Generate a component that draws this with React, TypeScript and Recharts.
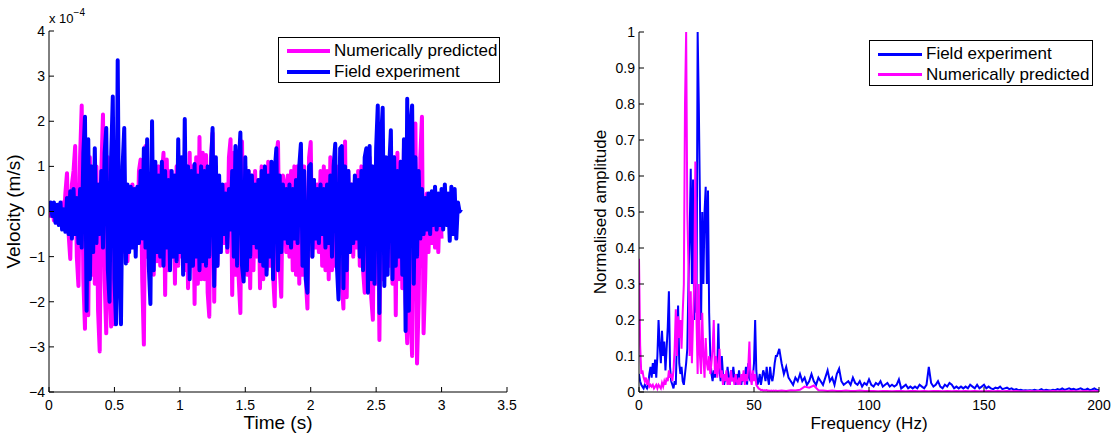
import { LineChart, Line, XAxis, YAxis } from 'recharts'

const FONT = '"Liberation Sans", Arial, Helvetica, sans-serif'
const MAGENTA = '#ff00ff'
const BLUE = '#0000ff'

// ---- time history (velocity x 1e-4 m/s), sampled every 12.5 ms ----
const timeStep = 0.0125
const fieldVelocity = [
  0.0, 0.2, -0.1, 0.2, -0.25, 0.15, -0.3, 0.2,
  -0.4, 0.05, -0.45, 0.3, -0.5, 0.45, -0.6, 0.5,
  -0.5, 0.3, -0.7, 0.5, -0.8, 1.3, 2.1, -2.2,
  1.6, -1.5, 1.0, -0.9, 1.4, -0.7, 0.6, -0.5,
  0.9, -0.8, 1.3, 1.85, -1.3, -2.0, 1.2, 2.55,
  -1.5, -2.5, 3.35, -1.2, -2.5, 1.0, 1.85, -1.15,
  0.6, -0.9, 0.55, -0.8, 0.5, -1.0, 0.55, -0.7,
  0.9, -0.6, 1.4, -0.8, 1.6, -1.2, -2.05, 2.0,
  -1.3, 1.1, -0.9, 0.8, -1.0, 1.1, -1.2, 0.9,
  -0.8, 0.7, -1.3, 0.9, -1.0, 0.8, -1.1, 1.6,
  -0.9, 1.2, -1.4, 2.05, -1.1, 1.0, -1.5, 0.9,
  -1.2, 1.05, -1.0, 0.8, -1.3, 1.0, -1.1, 0.9,
  -1.2, 1.0, -1.0, 0.9, 1.85, -1.65, 1.2, -1.2,
  0.8, -0.9, 0.6, -0.5, 0.4, -0.8, 0.5, -0.4,
  0.9, -1.0, 1.45, -1.2, 1.0, 1.75, -1.2, -1.55,
  1.2, -1.3, 0.9, -1.0, 0.8, -0.7, 0.6, -0.8,
  0.7, -1.1, 0.9, -1.2, 1.0, -1.4, 0.8, -1.0,
  1.1, -1.5, 0.9, 1.4, -1.3, 0.8, -0.9, 0.6,
  -0.6, 0.5, -0.7, 0.6, -0.8, 0.5, -0.6, 0.7,
  -0.7, 1.0, 1.5, -1.2, 0.9, -1.5, -1.8, 1.0,
  1.05, -1.0, 0.7, -0.6, 0.5, -0.7, 0.6, -0.5,
  0.5, -0.8, 0.6, -0.7, 0.8, -1.0, 1.0, 1.5,
  -1.2, -1.95, 1.4, 1.45, -1.7, 1.0, -1.3, 0.9,
  -0.9, 0.6, -0.7, 0.8, -0.6, 0.7, -1.0, 0.9,
  -1.3, 1.2, 1.4, -1.8, 1.45, -1.5, 1.0, -1.6,
  1.4, 2.35, -2.25, 1.6, 2.3, -1.65, 1.2, -1.4,
  1.0, 1.8, -1.5, 1.2, -1.2, 0.9, -1.0, 1.1,
  -1.4, 1.6, -2.65, 2.5, -2.2, 1.9, 2.35, -1.6,
  1.2, -1.0, 0.9, -0.6, 0.5, -0.5, 0.3, -0.4,
  0.4, -0.5, 0.45, -0.3, 0.55, -0.4, 0.4, -0.3,
  0.5, -0.4, 0.6, -0.3, 0.4, -0.65, 0.55, -0.5,
  0.5, -0.6, 0.2, 0.0, 0.05,
]
const predictedVelocity = [
  0.1, -0.1, 0.15, -0.2, 0.1, -0.25, 0.15, -0.2,
  0.2, -0.3, 0.4, 0.85, -0.5, -1.05, 0.6, 0.9,
  1.45, -1.0, -1.65, 1.2, 2.35, -1.5, -2.6, 1.0,
  -2.3, 1.2, -1.4, 0.8, -1.6, 1.0, -2.2, -3.1,
  0.9, 2.15, -1.5, -2.7, 1.2, -1.6, -2.55, 0.8,
  -2.5, 1.1, -1.6, 0.9, -1.2, 0.6, -0.9, 0.5,
  -1.1, 0.4, -0.8, 0.6, -0.7, 0.5, -0.6, 0.9,
  1.15, -1.5, -2.95, 1.45, -1.0, 0.8, -1.2, 1.0,
  -1.4, 0.9, -1.1, 1.0, -1.2, 0.8, 1.3, -1.85,
  1.15, -1.3, 0.9, -1.0, 0.8, -1.6, 1.0, -1.2,
  0.8, -1.0, 1.1, -1.3, 0.9, -1.7, 1.3, -1.1,
  1.0, -2.05, 1.2, -1.6, 1.65, -1.5, 1.3, -1.5,
  1.25, -1.8, -2.33, 1.2, 1.74, -2.0, 1.0, -1.2,
  0.6, -0.9, 0.5, -0.7, 0.6, -0.9, 1.2, 1.6,
  -1.85, 1.3, -1.4, 1.0, -1.5, -2.25, 1.55, -1.2,
  1.0, -1.4, 0.9, -1.7, 0.8, -1.3, 0.9, -1.0,
  0.7, -1.7, 1.0, -1.5, 0.9, -1.3, 1.1, -1.2,
  1.0, -1.4, -2.1, 1.2, 1.54, -1.2, -1.89, 0.8,
  0.6, -0.9, 0.8, -1.0, 0.9, -1.3, 1.0, -1.4,
  1.0, -1.6, 1.2, -1.4, 1.0, -1.5, -2.15, 1.2,
  1.54, -1.0, 0.7, -0.8, 0.6, -0.9, 0.9, -1.2,
  1.0, -1.3, 0.9, -1.5, 1.2, -1.3, 0.9, -1.2,
  1.0, -1.5, 1.2, -1.6, -2.15, 1.55, -1.9, 0.9,
  -0.9, 0.6, -1.0, 0.7, -0.8, 0.9, -1.2, 1.0,
  -1.3, -1.8, 1.1, -1.5, 1.2, -1.9, -2.4, 0.9,
  -1.6, 1.2, -2.85, 1.0, -1.5, 1.1, -1.3, 0.9,
  -1.2, 1.0, -1.6, 1.2, -2.3, 1.3, -1.5, 1.1,
  -1.7, 1.4, -2.0, -2.92, 1.6, -2.2, -3.2, 1.2,
  1.95, -3.37, -2.0, 1.2, 2.1, -2.7, -1.5, 0.4,
  -0.9, 0.3, -0.7, 0.4, -0.8, 0.2, -0.9, 0.3,
  -0.6,
]
const timeTicks = [0, 0.5, 1, 1.5, 2, 2.5, 3, 3.5]
const velocityTicks = [-4, -3, -2, -1, 0, 1, 2, 3, 4]

// ---- spectra (normalised) ----
// 0–60 Hz every 0.5 Hz
const fieldAmpLow = [
  0.05, 0.03, 0.02, 0.015, 0.01, 0.02, 0.015, 0.01, 0.02, 0.05,
  0.07, 0.04, 0.08, 0.05, 0.09, 0.04, 0.1, 0.2, 0.13, 0.08,
  0.17, 0.1, 0.14, 0.06, 0.12, 0.18, 0.28, 0.07, 0.03, 0.02,
  0.01, 0.03, 0.02, 0.15, 0.24, 0.08, 0.05, 0.07, 0.03, 0.02,
  0.05, 0.08, 0.12, 0.3, 0.43, 0.62, 0.3, 0.59, 0.2, 0.35,
  0.22, 1.0, 0.8, 0.53, 0.2, 0.5, 0.3, 0.5, 0.57, 0.3,
  0.56, 0.22, 0.1, 0.05, 0.03, 0.06, 0.04, 0.08, 0.05, 0.19,
  0.06, 0.03, 0.1, 0.05, 0.02, 0.04, 0.03, 0.07, 0.04, 0.02,
  0.06, 0.03, 0.07, 0.04, 0.02, 0.05, 0.03, 0.06, 0.03, 0.02,
  0.05, 0.03, 0.04, 0.07, 0.02, 0.08, 0.04, 0.03, 0.05, 0.04,
  0.08, 0.2, 0.06, 0.02, 0.03, 0.05, 0.02, 0.04, 0.06, 0.05,
  0.03, 0.07, 0.04, 0.02, 0.07, 0.04, 0.03, 0.05, 0.08, 0.1,
  0.1,
]
const predAmpLow = [
  0.37, 0.13, 0.05, 0.06, 0.04, 0.03, 0.04, 0.02, 0.03, 0.015,
  0.02, 0.015, 0.02, 0.01, 0.015, 0.02, 0.01, 0.02, 0.015, 0.01,
  0.025, 0.015, 0.03, 0.02, 0.04, 0.03, 0.06, 0.04, 0.05, 0.03,
  0.06, 0.12, 0.23, 0.1, 0.21, 0.15, 0.2, 0.12, 0.22, 0.3,
  0.8, 1.0, 0.5, 0.35, 0.1, 0.28, 0.08, 0.2, 0.3, 0.64,
  0.2, 0.05, 0.3, 0.1, 0.05, 0.22, 0.1, 0.04, 0.15, 0.08,
  0.06, 0.1, 0.05, 0.08, 0.12, 0.2, 0.05, 0.1, 0.04, 0.07,
  0.12, 0.04, 0.06, 0.02, 0.05, 0.03, 0.06, 0.02, 0.04, 0.02,
  0.06, 0.03, 0.04, 0.02, 0.05, 0.03, 0.02, 0.04, 0.02, 0.05,
  0.03, 0.06, 0.02, 0.05, 0.03, 0.07, 0.14, 0.04, 0.02, 0.06,
  0.03, 0.05, 0.02, 0.015, 0.01, 0.008, 0.005, 0.006, 0.004, 0.005,
  0.004, 0.005, 0.003, 0.004, 0.003, 0.004, 0.003, 0.004, 0.003, 0.004,
  0.003,
]
// 61–200 Hz every 1 Hz
const fieldAmpHigh = [
  0.12, 0.08, 0.05, 0.07, 0.04, 0.03, 0.02, 0.04, 0.03, 0.05,
  0.03, 0.04, 0.02, 0.03, 0.05, 0.03, 0.02, 0.04, 0.03, 0.02,
  0.04, 0.06, 0.03, 0.04, 0.02, 0.05, 0.065, 0.03, 0.02, 0.025,
  0.03, 0.02, 0.04, 0.025, 0.02, 0.03, 0.015, 0.025, 0.02, 0.035,
  0.02, 0.015, 0.025, 0.02, 0.03, 0.015, 0.02, 0.025, 0.015, 0.02,
  0.015, 0.02, 0.035, 0.01, 0.015, 0.02, 0.01, 0.015, 0.01, 0.015,
  0.01, 0.02, 0.015, 0.01, 0.02, 0.07, 0.025, 0.015, 0.02, 0.03,
  0.015, 0.01, 0.02, 0.015, 0.025, 0.02, 0.01, 0.015, 0.01, 0.015,
  0.01, 0.015, 0.01, 0.02, 0.015, 0.01, 0.02, 0.01, 0.015, 0.02,
  0.01, 0.015, 0.01, 0.008, 0.012, 0.01, 0.015, 0.008, 0.01, 0.012,
  0.008, 0.01, 0.006, 0.008, 0.005, 0.006, 0.004, 0.005, 0.004, 0.005,
  0.004, 0.006, 0.004, 0.005, 0.008, 0.004, 0.006, 0.005, 0.004, 0.006,
  0.005, 0.008, 0.006, 0.01, 0.006, 0.008, 0.01, 0.007, 0.009, 0.006,
  0.008, 0.01, 0.007, 0.006, 0.009, 0.005, 0.007, 0.01, 0.006, 0.005,
]
// 62–200 Hz every 2 Hz
const predAmpHigh = [
  0.004, 0.003, 0.005, 0.004, 0.006, 0.015, 0.012, 0.018, 0.005, 0.004,
  0.003, 0.004, 0.003, 0.003, 0.004, 0.003, 0.003, 0.004, 0.003, 0.003,
  0.003, 0.002, 0.003, 0.003, 0.002, 0.003, 0.003, 0.002, 0.003, 0.003,
  0.002, 0.003, 0.002, 0.003, 0.003, 0.002, 0.003, 0.002, 0.003, 0.002,
  0.003, 0.002, 0.003, 0.002, 0.002, 0.003, 0.002, 0.003, 0.002, 0.003,
  0.002, 0.003, 0.002, 0.002, 0.003, 0.002, 0.003, 0.002, 0.002, 0.003,
  0.002, 0.003, 0.002, 0.003, 0.002, 0.002, 0.003, 0.002, 0.003, 0.002,
]
const freqTicks = [0, 50, 100, 150, 200]
const ampTicks = [0, 0.1, 0.2, 0.3, 0.4, 0.5, 0.6, 0.7, 0.8, 0.9, 1]

const toSeries = (values: number[], step: number, start = 0) =>
  values.map((v, i) => ({ x: start + i * step, y: v }))

const fieldVelData = toSeries(fieldVelocity, timeStep)
const predVelData = toSeries(predictedVelocity, timeStep)
const fieldSpecData = [...toSeries(fieldAmpLow, 0.5), ...toSeries(fieldAmpHigh, 1, 61)]
const predSpecData = [...toSeries(predAmpLow, 0.5), ...toSeries(predAmpHigh, 2, 62)]

const tickStyle = { fontSize: 14, fill: '#000', fontFamily: FONT }
const noTick = () => <g />
const minus = (v: number) => (v < 0 ? `\u2212${Math.abs(v)}` : `${v}`)

function LegendBox({ left, top, width, lineW, lineH, items }: {
  left: number; top: number; width: number; lineW: number; lineH: number
  items: { label: string; color: string }[]
}) {
  return (
    <div
      style={{
        position: 'absolute', left, top, width, height: 46,
        border: '1px solid #000', background: '#fff', boxSizing: 'border-box',
        fontFamily: FONT, fontSize: 17, color: '#000',
      }}
    >
      {items.map((it, i) => (
        <div
          key={it.label}
          style={{
            position: 'absolute', left: 8, top: 3 + i * 20.5, height: 20,
            display: 'flex', alignItems: 'center', whiteSpace: 'nowrap',
          }}
        >
          <span style={{ display: 'inline-block', width: lineW, height: lineH, background: it.color, marginRight: 4 }} />
          <span>{it.label}</span>
        </div>
      ))}
    </div>
  )
}

export default function App() {
  return (
    <div style={{ position: 'absolute', left: 0, top: 0, width: 1116, height: 441, background: '#fff', fontFamily: FONT }}>
      <div style={{ position: 'absolute', left: 0, top: 0 }}>
        <LineChart width={520} height={441} margin={{ top: 31, right: 13, left: 0, bottom: 0 }} style={{ fontFamily: FONT }}>
          <XAxis
            dataKey="x" type="number" domain={[0, 3.5]} ticks={timeTicks} allowDataOverflow interval={0}
            height={49} tickSize={-5} tickMargin={13} stroke="#000" tick={tickStyle}
            label={{ value: 'Time (s)', position: 'insideBottom', offset: 12, style: { fontSize: 19, fill: '#000', fontFamily: FONT } }}
          />
          <XAxis
            xAxisId="top" orientation="top" dataKey="x" type="number" domain={[0, 3.5]} ticks={timeTicks}
            allowDataOverflow interval={0} height={0} tickSize={-5} stroke="#000" tick={noTick}
          />
          <YAxis
            type="number" domain={[-4, 4]} ticks={velocityTicks} allowDataOverflow interval={0}
            width={49} tickSize={-5} tickMargin={9} stroke="#000" tick={tickStyle} tickFormatter={minus}
            label={{ value: 'Velocity (m/s)', angle: -90, position: 'insideLeft', offset: 13, style: { textAnchor: 'middle', fontSize: 19, fill: '#000', fontFamily: FONT } }}
          />
          <YAxis
            yAxisId="right" orientation="right" type="number" domain={[-4, 4]} ticks={velocityTicks}
            allowDataOverflow interval={0} width={0} tickSize={-5} stroke="#000" tick={noTick}
          />
          <Line data={predVelData} dataKey="y" type="linear" stroke={MAGENTA} strokeWidth={4} strokeLinejoin="round" dot={false} isAnimationActive={false} />
          <Line data={fieldVelData} dataKey="y" type="linear" stroke={BLUE} strokeWidth={4} strokeLinejoin="round" dot={false} isAnimationActive={false} />
        </LineChart>
      </div>

      <div style={{ position: 'absolute', left: 580, top: 0 }}>
        <LineChart width={536} height={441} margin={{ top: 32, right: 17, left: 0, bottom: 0 }} style={{ fontFamily: FONT }}>
          <XAxis
            dataKey="x" type="number" domain={[0, 200]} ticks={freqTicks} allowDataOverflow interval={0}
            height={49} tickSize={-5} tickMargin={13} stroke="#000" tick={tickStyle}
            label={{ value: 'Frequency (Hz)', position: 'insideBottom', offset: 12, style: { fontSize: 17, fill: '#000', fontFamily: FONT } }}
          />
          <XAxis
            xAxisId="top" orientation="top" dataKey="x" type="number" domain={[0, 200]} ticks={freqTicks}
            allowDataOverflow interval={0} height={0} tickSize={-5} stroke="#000" tick={noTick}
          />
          <YAxis
            type="number" domain={[0, 1]} ticks={ampTicks} allowDataOverflow interval={0}
            width={59} tickSize={-5} tickMargin={9} stroke="#000" tick={tickStyle}
            label={{ value: 'Normalised amplitude', angle: -90, position: 'insideLeft', offset: 20, style: { textAnchor: 'middle', fontSize: 17, fill: '#000', fontFamily: FONT } }}
          />
          <YAxis
            yAxisId="right" orientation="right" type="number" domain={[0, 1]} ticks={ampTicks}
            allowDataOverflow interval={0} width={0} tickSize={-5} stroke="#000" tick={noTick}
          />
          <Line data={fieldSpecData} dataKey="y" type="linear" stroke={BLUE} strokeWidth={2} dot={false} isAnimationActive={false} />
          <Line data={predSpecData} dataKey="y" type="linear" stroke={MAGENTA} strokeWidth={2} dot={false} isAnimationActive={false} />
        </LineChart>
      </div>

      <div style={{ position: 'absolute', left: 49, top: 9, fontSize: 13, whiteSpace: 'nowrap' }}>
        x 10<sup style={{ fontSize: 10, position: 'relative', top: -2 }}>{'\u22124'}</sup>
      </div>

      <LegendBox
        left={278} top={37} width={222} lineW={43} lineH={4}
        items={[
          { label: 'Numerically predicted', color: MAGENTA },
          { label: 'Field experiment', color: BLUE },
        ]}
      />
      <LegendBox
        left={869} top={40} width={224} lineW={44} lineH={3}
        items={[
          { label: 'Field experiment', color: BLUE },
          { label: 'Numerically predicted', color: MAGENTA },
        ]}
      />
    </div>
  )
}
